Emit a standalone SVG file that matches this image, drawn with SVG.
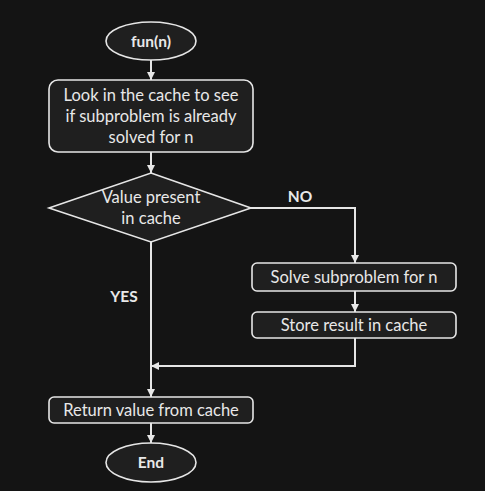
<svg xmlns="http://www.w3.org/2000/svg" width="485" height="491" viewBox="0 0 485 491">
<defs>
<style>
.shape{fill:#1f1f1f;stroke:#e6e6e6;stroke-width:1.6}
.t{font-family:Lato,"Open Sans","Liberation Sans",sans-serif;font-size:16.5px;fill:#e8e8e8;text-anchor:middle}
.b{font-weight:bold;font-size:15.5px}
.c{fill:none;stroke:#e6e6e6;stroke-width:2}
</style>
<marker id="ah2" viewBox="0 0 10 10" refX="10" refY="5" markerWidth="8" markerHeight="8" markerUnits="userSpaceOnUse" orient="auto">
<path d="M0,0 L10,5 L0,10 z" fill="#e6e6e6"/>
</marker>
</defs>
<rect width="485" height="491" fill="#141414"/>
<g id="connectors">
<path class="c" d="M151,60 V80" marker-end="url(#ah2)"/>
<path class="c" d="M151,152 V173" marker-end="url(#ah2)"/>
<path class="c" d="M251,208 H355 V263" marker-end="url(#ah2)"/>
<path class="c" d="M355,291 V312" marker-end="url(#ah2)"/>
<path class="c" d="M355,338 V366 H151" marker-end="url(#ah2)"/>
<path class="c" d="M151,242 V397" marker-end="url(#ah2)"/>
<path class="c" d="M151,423 V443" marker-end="url(#ah2)"/>
<text class="t b" x="300" y="202">NO</text>
<text class="t b" x="124" y="302">YES</text>
</g>
<g id="start">
<ellipse class="shape" cx="151" cy="41" rx="45" ry="19"/>
<text class="t b" x="151" y="47">fun(n)</text>
</g>
<g id="lookup">
<rect class="shape" x="49" y="80" width="204" height="72" rx="9"/>
<text class="t" x="151" y="101">Look in the cache to see</text>
<text class="t" x="151" y="122">if subproblem is already</text>
<text class="t" x="151" y="143">solved for n</text>
</g>
<g id="decision">
<polygon class="shape" points="151,173 251,208 151,242 49,208"/>
<text class="t" x="151" y="203">Value present</text>
<text class="t" x="151" y="224">in cache</text>
</g>
<g id="solve">
<rect class="shape" x="252" y="263" width="204" height="28" rx="5"/>
<text class="t" x="354" y="283">Solve subproblem for n</text>
</g>
<g id="store">
<rect class="shape" x="252" y="312" width="204" height="26" rx="5"/>
<text class="t" x="354" y="331">Store result in cache</text>
</g>
<g id="return">
<rect class="shape" x="49" y="397" width="204" height="26" rx="5"/>
<text class="t" x="151" y="416">Return value from cache</text>
</g>
<g id="end">
<ellipse class="shape" cx="151" cy="462.5" rx="45" ry="19.5"/>
<text class="t b" x="151" y="468">End</text>
</g>
</svg>
